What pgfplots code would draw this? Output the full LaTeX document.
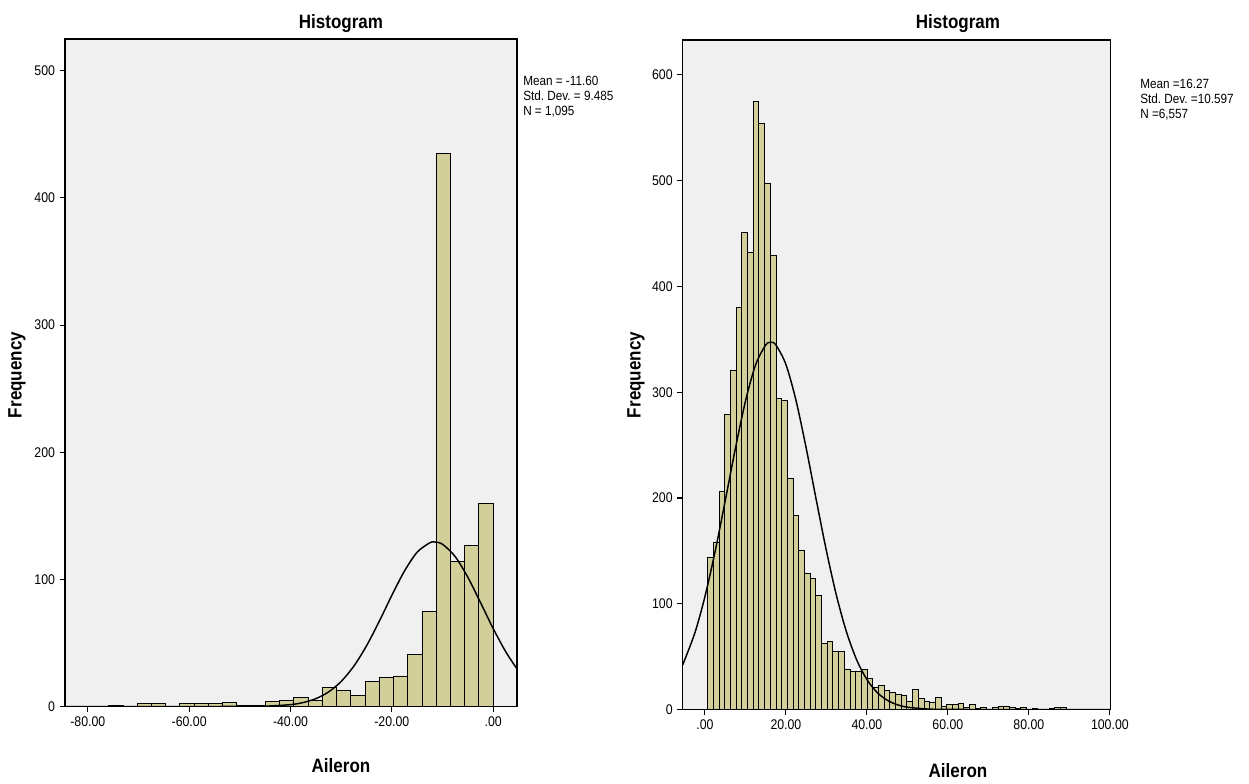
\documentclass[border=0pt]{standalone}
\usepackage{fontspec}
\setmainfont{Liberation Sans}
\newfontfamily\narrow{Liberation Sans}[FakeStretch=0.88]
\usepackage{pgfplots}
\pgfplotsset{compat=1.18}
\frenchspacing
\definecolor{barfill}{HTML}{D3CF9B}
\definecolor{panel}{HTML}{F0F0F0}
\pgfplotsset{
  spss/.style={
    scale only axis, anchor=south west,
    axis background/.style={fill=panel},
    axis line style={black, line width=0.9pt},
    tick align=outside, xtick pos=bottom, ytick pos=left,
    major tick length=4pt, tick style={black, line width=0.8pt},
    ticklabel style={font=\narrow\fontsize{10.5}{11}\selectfont},
    /pgf/number format/assume math mode=true,
    ymin=0,
  },
  hist/.style={ybar interval, fill=barfill, draw=black, line width=0.7pt},
  normal/.style={black, line width=1.1pt, smooth, no marks},
}
\newcommand{\lab}{\narrow\fontsize{14.5}{15}\selectfont\bfseries}
\newcommand{\stat}{\narrow\fontsize{10}{11.25}\selectfont}

\begin{document}
\begin{tikzpicture}
\useasboundingbox (0,0) rectangle (936.75pt,588pt);

% left histogram
\begin{axis}[spss, at={(48.75pt,58.125pt)}, width=339pt, height=500.6pt,
  xmin=-84.5, xmax=4.7, ymax=525,
  xtick={-80,-60,-40,-20,0}, xticklabels={-80.00,-60.00,-40.00,-20.00,.00},
  ytick={0,100,...,500}]
\addplot[hist] coordinates {
  (-75.87,1) (-73.06,0) (-70.25,2) (-67.44,2) (-64.63,0) (-61.82,2)
  (-59.01,2) (-56.20,2) (-53.39,3) (-50.58,1) (-47.77,1) (-44.96,4)
  (-42.15,5) (-39.34,7) (-36.53,5) (-33.72,15) (-30.91,13) (-28.10,9)
  (-25.29,20) (-22.48,23) (-19.67,24) (-16.86,41) (-14.05,75) (-11.24,435)
  (-8.43,114) (-5.62,127) (-2.81,160) (0,0)};
\addplot[normal] coordinates {
  (-84.5,0) (-60,0) (-50,0.04) (-45,0.26) (-40,1.46) (-37.5,3.11) (-35,6.17)
  (-32.5,11.42) (-30,19.71) (-27.5,31.75) (-25,47.7) (-22.5,66.86)
  (-20,87.44) (-17.5,106.6) (-15,121.4) (-12.5,128.8) (-11.6,129.4)
  (-10,127.6) (-7.5,117.9) (-5,101.6) (-2.5,81.7) (0,61.3) (2.5,42.9)
  (4.7,29.6)};
\end{axis}

% right histogram
\begin{axis}[spss, at={(512pt,55.875pt)}, width=321pt, height=502.1pt,
  xmin=-5.5, xmax=100.2, ymax=633,
  xtick={0,20,40,60,80,100},
  xticklabels={.00,20.00,40.00,60.00,80.00,100.00},
  ytick={0,100,...,600}]
\addplot[hist] coordinates {
  (0.67,144) (2.08,158) (3.48,206) (4.89,279) (6.29,321) (7.70,380)
  (9.11,451) (10.51,432) (11.92,575) (13.32,554) (14.73,497) (16.14,429)
  (17.54,294) (18.95,292) (20.35,218) (21.76,183) (23.17,150) (24.57,129)
  (25.98,124) (27.38,108) (28.79,62) (30.20,64) (31.60,55) (33.01,55)
  (34.41,38) (35.82,36) (37.23,36) (38.63,38) (40.04,29) (41.44,21)
  (42.85,23) (44.26,18) (45.66,16) (47.07,14) (48.47,13) (49.88,8)
  (51.29,19) (52.69,10) (54.10,8) (55.50,7) (56.91,11) (58.32,3)
  (59.72,5) (61.13,5) (62.53,6) (63.94,2) (65.35,5) (66.75,1)
  (68.16,2) (69.56,0) (70.97,2) (72.38,3) (73.78,3) (75.19,2)
  (76.59,1) (78.00,2) (79.41,0) (80.81,1) (82.22,0) (83.62,0)
  (85.03,1) (86.44,2) (87.84,2) (89.25,0) (90.65,0)};
\addplot[normal] coordinates {
  (-5.5,42.1) (-2.5,72.3) (0,106.8) (2.5,149.2) (5,197.2) (7.5,246.4)
  (10,291.4) (12.5,325.8) (15,344.6) (16.27,347.1) (17.5,344.8) (20,326.2)
  (22.5,292.0) (25,247.2) (27.5,198.0) (30,150.0) (32.5,107.4) (35,72.8)
  (37.5,46.7) (40,28.3) (42.5,16.2) (45,8.8) (47.5,4.5) (50,2.19)
  (55,0.44) (60,0.07) (70,0) (100.2,0)};
\end{axis}

% titles and labels
\node[font=\lab] at (255.75pt,570.5pt) {Histogram};
\node[font=\lab] at (718.5pt,570.5pt) {Histogram};
\node[font=\lab] at (255.75pt,13.5pt) {Aileron};
\node[font=\lab] at (718.5pt,9.75pt) {Aileron};
\node[font=\lab, rotate=90] at (12.75pt,306.75pt) {Frequency};
\node[font=\lab, rotate=90] at (477pt,306.75pt) {Frequency};

% summary statistics
\node[font=\stat, anchor=north west, align=left, inner sep=0pt]
  at (392.25pt,531pt) {Mean = -11.60\\Std. Dev. = 9.485\\N = 1,095};
\node[font=\stat, anchor=north west, align=left, inner sep=0pt]
  at (855pt,528.5pt) {Mean =16.27\\Std. Dev. =10.597\\N =6,557};
\end{tikzpicture}
\end{document}
